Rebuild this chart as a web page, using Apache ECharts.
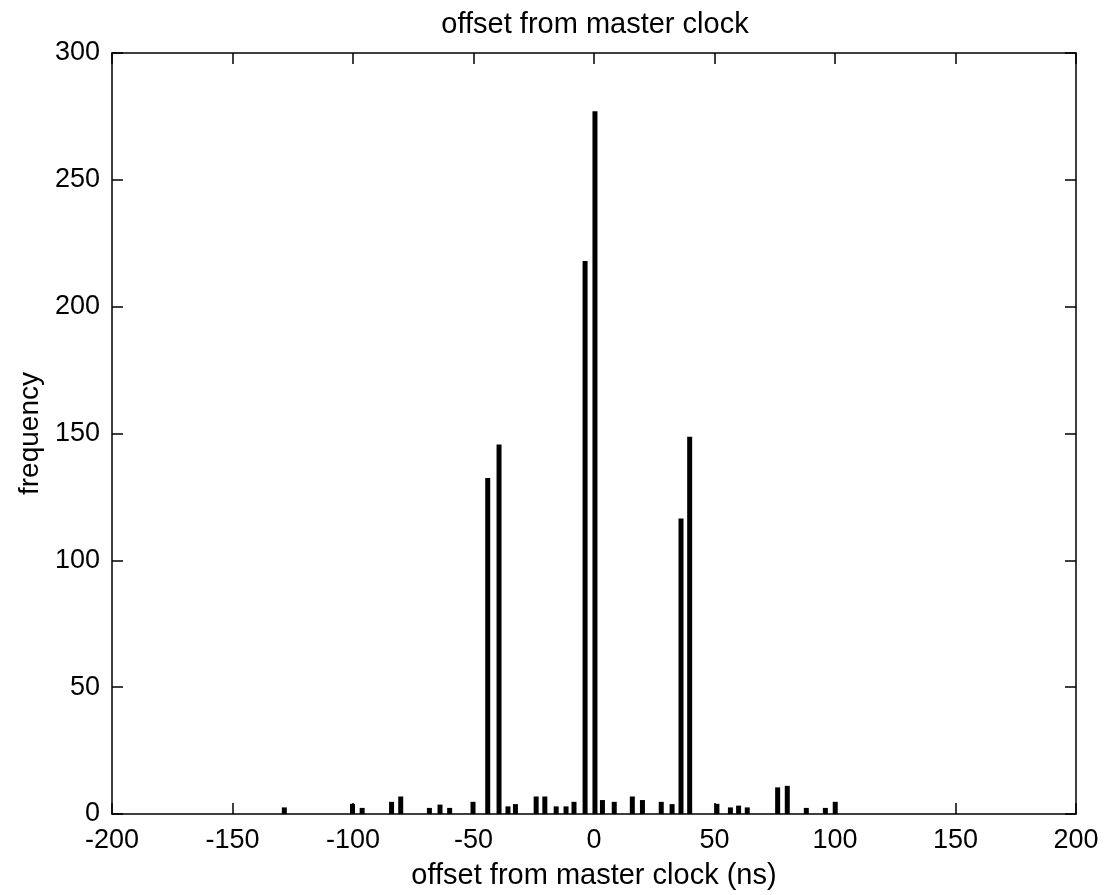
<!DOCTYPE html>
<html>
<head>
<meta charset="utf-8">
<script src="https://cdn.jsdelivr.net/npm/echarts@6/dist/echarts.min.js"></script>
<style>
  html, body { margin: 0; padding: 0; background: #fff; }
  #chart { width: 1116px; height: 895px; }
</style>
</head>
<body>
<div id="chart"></div>
<script>
// offset bins (ns) and their counts
const offsets = [-128.5, -100.2, -96.2, -84, -80.2, -68.3, -63.9, -59.9, -50.2,
  -44.1, -39.4, -35.7, -32.6, -24, -20.4, -15.7, -11.6, -8.3, -3.7, 0.4,
  3.5, 8.4, 15.9, 20.1, 27.9, 32.4, 36.1, 39.7, 51, 56.6, 60, 63.6,
  76.2, 80.2, 88.1, 96, 100.1]
const counts = [2.6, 4, 2.4, 4.8, 6.9, 2.4, 3.7, 2.4, 4.8,
  132.5, 145.7, 3, 3.9, 6.9, 6.9, 3, 3, 4.8, 218, 277,
  5.5, 4.8, 6.9, 5.5, 4.8, 3.9, 116.5, 148.7, 4, 2.6, 3.3, 2.6,
  10.5, 11.1, 2.4, 2.4, 4.8]
const xTicks = [-200, 200, 50]   // min, max, step
const yTicks = [0, 300, 50]

const chart = echarts.init(document.getElementById('chart'))
const font = "'Liberation Sans', Arial, sans-serif"
const black = '#000'

const lineStyle = { color: black, width: 1.5 }
const mirrorAxis = {
  axisLine: { show: true, onZero: false, lineStyle: lineStyle },
  axisTick: { show: true, inside: true, length: 11, lineStyle: lineStyle },
  axisLabel: { show: false },
  splitLine: { show: false }
}

chart.setOption({
  animation: false,
  title: {
    text: 'offset from master clock',
    left: 590,
    textAlign: 'center',
    top: 5,
    textStyle: { fontFamily: font, fontWeight: 'normal', fontSize: 29, color: black }
  },
  grid: { left: 112, right: 40, top: 53, bottom: 78, containLabel: false },
  xAxis: [{
    type: 'value',
    min: xTicks[0], max: xTicks[1], interval: xTicks[2],
    name: 'offset from master clock (ns)',
    nameLocation: 'middle',
    nameGap: 47,
    nameTextStyle: { fontFamily: font, fontSize: 29, color: black },
    axisLine: { show: true, onZero: false, lineStyle: lineStyle },
    axisTick: { show: true, inside: true, length: 11, lineStyle: lineStyle },
    axisLabel: { fontFamily: font, fontSize: 27, color: black, margin: 13 },
    splitLine: { show: false }
  }, Object.assign({
    type: 'value', position: 'top',
    min: xTicks[0], max: xTicks[1], interval: xTicks[2]
  }, mirrorAxis)],
  yAxis: [{
    type: 'value',
    min: yTicks[0], max: yTicks[1], interval: yTicks[2],
    name: 'frequency',
    nameLocation: 'middle',
    nameGap: 67,
    nameTextStyle: { fontFamily: font, fontSize: 28, color: black },
    axisLine: { show: true, onZero: false, lineStyle: lineStyle },
    axisTick: { show: true, inside: true, length: 11, lineStyle: lineStyle },
    axisLabel: { fontFamily: font, fontSize: 27, color: black, margin: 12 },
    splitLine: { show: false }
  }, Object.assign({
    type: 'value', position: 'right',
    min: yTicks[0], max: yTicks[1], interval: yTicks[2]
  }, mirrorAxis)],
  series: [{
    type: 'bar',
    xAxisIndex: 0,
    yAxisIndex: 0,
    barWidth: 5,
    itemStyle: { color: black },
    data: offsets.map((x, i) => [x, counts[i]])
  }]
})
</script>
</body>
</html>
